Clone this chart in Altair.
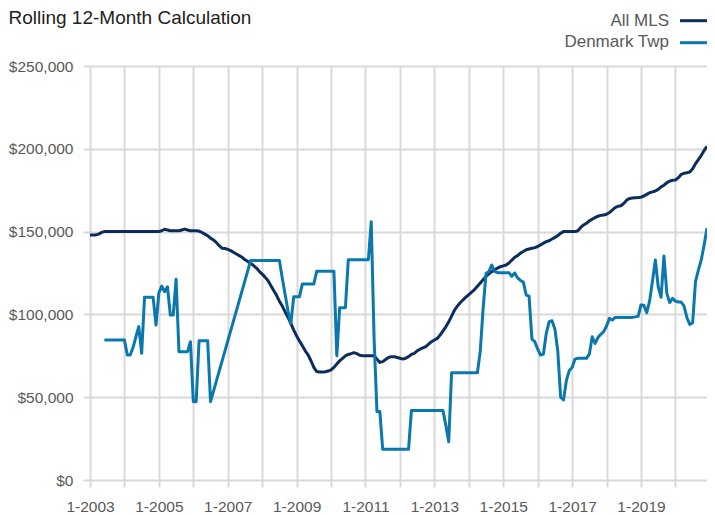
import altair as alt
import pandas as pd

# ---- data (thousands of $), monthly Jan 2003 .. Dec 2020 ----
start_year = 2003
series_names = ["All MLS", "Denmark Twp"]
series_colors = ["#0b2d5c", "#0a78ae"]

all_mls = [
    # 2003
    148, 148, 148, 148.5, 149.5, 150, 150, 150, 150, 150, 150, 150,
    # 2004
    150, 150, 150, 150, 150, 150, 150, 150, 150, 150, 150, 150,
    # 2005
    150, 150.5, 151.4, 151, 150.5, 150.5, 150.5, 150.5, 151, 151.5, 151, 150.5,
    # 2006
    150.5, 150.5, 150.3, 149.5, 148.5, 147.5, 146, 145, 143.5, 141.5, 140, 139.8,
    # 2007
    139.3, 138.5, 137.5, 136.5, 135.5, 134.5, 133, 132, 130.8, 129.5, 128, 126,
    # 2008
    124.3, 122.5, 120.5, 117.5, 114.5, 111.5, 108, 105, 101.5, 98.3, 94.5, 90.5,
    # 2009
    87, 84, 81, 78, 75.5, 72, 68, 65.5, 65.2, 65.2, 65.4, 65.8,
    # 2010
    66.5, 68, 70, 72, 73.5, 75, 75.8, 76.3, 76.9, 76.3, 75.3, 75,
    # 2011
    75, 75, 75, 75, 73, 71, 71.5, 72.8, 74, 74.5, 74.5, 74,
    # 2012
    73.5, 73, 73.5, 74.5, 75.8, 76.5, 78, 79, 79.8, 80.5, 82, 83.5,
    # 2013
    84.5, 85.5, 87.5, 90, 92.5, 95.5, 99, 102.5, 105, 107, 108.8, 110.5,
    # 2014
    112, 113.5, 115, 117, 119, 121, 123, 124.5, 125.8, 127, 128, 128.8,
    # 2015
    129.3, 129.8, 131, 132.8, 134.5, 135.5, 137, 138, 139, 139.5, 139.9, 140.3,
    # 2016
    141, 142, 143, 143.9, 144.5, 145.5, 146.5, 147.5, 149, 150, 150, 150,
    # 2017
    150, 150, 150.5, 152.5, 154, 155, 156.5, 157.5, 158.5, 159.3, 159.8, 160,
    # 2018
    160.5, 161.5, 163, 164.5, 165.3, 165.6, 167, 169, 170, 170.3, 170.5, 170.6,
    # 2019
    170.8, 171.5, 172.5, 173.5, 174, 174.5, 175.5, 177, 178, 179.5, 180.5, 181,
    # 2020
    181.2, 182.5, 184.5, 185.2, 185.5, 186, 188, 191, 193.5, 196, 199, 201.5,
]

denmark = [
    # 2003
    None, None, None, None, None, 84.5, 84.5, 84.5, 84.5, 84.5, 84.5, 84.5,
    # 2004
    84.5, 75.5, 75.5, 80, 86.5, 92.6, 76.5, 110.3, 110.3, 110.3, 110.3, 93.6,
    # 2005
    113, 117.1, 113.7, 116.7, 99.6, 99.6, 121.2, 77.5, 77.5, 77.5, 77.5, 83.5,
    # 2006
    47.3, 47.3, 84.1, 84.1, 84.1, 84.1, 47.3, None, None, None, None, None,
    # 2007
    None, None, None, None, None, None, None, None, 132.6, 132.6, 132.6, 132.6,
    # 2008
    132.6, 132.6, 132.6, 132.6, 132.6, 132.6, 132.6, 122, 112, 102, 94.6, 110.7,
    # 2009
    110.7, 110.7, 118.4, 118.4, 118.4, 118.4, 118.4, 126, 126, 126, 126, 126,
    # 2010
    126, 126, 75, 104, 104, 104, 133, 133, 133, 133, 133, 133,
    # 2011
    133, 133, 156, 85, 41.3, 41.3, 18.5, 18.5, 18.5, 18.5, 18.5, 18.5,
    # 2012
    18.5, 18.5, 18.5, 18.5, 41.9, 41.9, 41.9, 41.9, 41.9, 41.9, 41.9, 41.9,
    # 2013
    41.9, 41.9, 41.9, 41.9, 33, 23.1, 64.8, 64.8, 64.8, 64.8, 64.8, 64.8,
    # 2014
    64.8, 64.8, 64.8, 64.8, 78, 104, 124.8, 125.8, 129.8, 126, 125.2, 125.2,
    # 2015
    125.2, 125.2, 125.2, 123, 125, 122, 120.5, 119.5, 111.7, 111, 85, 83.5,
    # 2016
    79, 75.5, 76, 88.6, 95.6, 96.2, 91, 78, 50, 48.3, 60, 66,
    # 2017
    68, 73, 73.5, 73.5, 73.5, 73.5, 76, 86.5, 82.5, 86, 88, 89.6,
    # 2018
    93, 97.6, 96.6, 98.2, 98.2, 98.2, 98.2, 98.2, 98.2, 98.2, 98.5, 98.8,
    # 2019
    105.7, 105.5, 101, 108, 120, 132.9, 116.7, 110.3, 135.3, 112.7, 107.1, 109.7,
    # 2020
    108, 107.5, 107.5, 105, 98, 94, 95, 120, 126.8, 132.9, 142, 152,
]

year_ticks = list(range(2003, 2021))
y_ticks = [0, 50000, 100000, 150000, 200000, 250000]

# ---- build table ----
rows = []
for name, vals in zip(series_names, [all_mls, denmark]):
    for i, v in enumerate(vals):
        if v is None:
            continue
        rows.append({"t": start_year + i / 12.0, "value": v * 1000, "series": name})
df = pd.DataFrame(rows)

FONT = "Liberation Sans"
GRID = "#d9d9d9"
LABEL = "#595959"
x_end = start_year + (len(all_mls) - 1) / 12.0

W = 617
H = 414

x_enc = alt.X(
    "t:Q",
    scale=alt.Scale(domain=[start_year, x_end], nice=False, zero=False),
    axis=alt.Axis(
        values=year_ticks,
        labelExpr="datum.value % 2 == 1 ? '1-' + datum.value : ''",
        title=None,
        grid=True,
        gridColor=GRID,
        gridWidth=2,
        domain=False,
        ticks=True,
        tickColor=GRID,
        tickWidth=2,
        tickSize=7,
        labelPadding=12,
        labelFlush=False,
        labelBound=False,
        labelOverlap=False,
        labelFont=FONT,
        labelFontSize=15.5,
        labelColor=LABEL,
    ),
)
y_enc = alt.Y(
    "value:Q",
    scale=alt.Scale(domain=[0, 250000], nice=False),
    axis=alt.Axis(
        values=y_ticks,
        format="$,.0f",
        title=None,
        grid=True,
        gridColor=GRID,
        gridWidth=2,
        domain=False,
        ticks=True,
        tickColor=GRID,
        tickWidth=2,
        tickSize=7,
        labelPadding=10,
        labelFont=FONT,
        labelFontSize=15.5,
        labelColor=LABEL,
    ),
)

layers = []
for name, color in zip(series_names, series_colors):
    layers.append(
        alt.Chart(df[df["series"] == name])
        .mark_line(color=color, strokeWidth=3, strokeJoin="round")
        .encode(x=x_enc, y=y_enc)
    )

# legend (labels left of line swatches, top right)
legend_y = [-40, -18.7]
swatch_y = [-45.3, -23.3]
for name, color, ly, sy in zip(series_names, series_colors, legend_y, swatch_y):
    layers.append(
        alt.Chart(pd.DataFrame({"label": [name]}))
        .mark_text(align="right", baseline="alphabetic", font=FONT, fontSize=17, color=LABEL)
        .encode(text="label:N", x=alt.value(W - 38), y=alt.value(ly))
    )
    layers.append(
        alt.Chart(pd.DataFrame({"label": [name]}))
        .mark_rule(color=color, strokeWidth=3)
        .encode(x=alt.value(W - 27), x2=alt.value(W), y=alt.value(sy))
    )

# title
layers.append(
    alt.Chart(pd.DataFrame({"title": ["Rolling 12-Month Calculation"]}))
    .mark_text(align="left", baseline="alphabetic", font=FONT, fontSize=19, color="#222222")
    .encode(text="title:N", x=alt.value(-81.5), y=alt.value(-42))
)

chart = (
    alt.layer(*layers)
    .properties(
        width=W,
        height=H,
        padding={"left": 82, "top": 58, "right": 0, "bottom": 35},
        autosize=alt.AutoSizeParams(type="none"),
    )
    .configure_view(stroke=None)
)

chart.save("out.html", embed_options={"renderer": "svg", "actions": False})
